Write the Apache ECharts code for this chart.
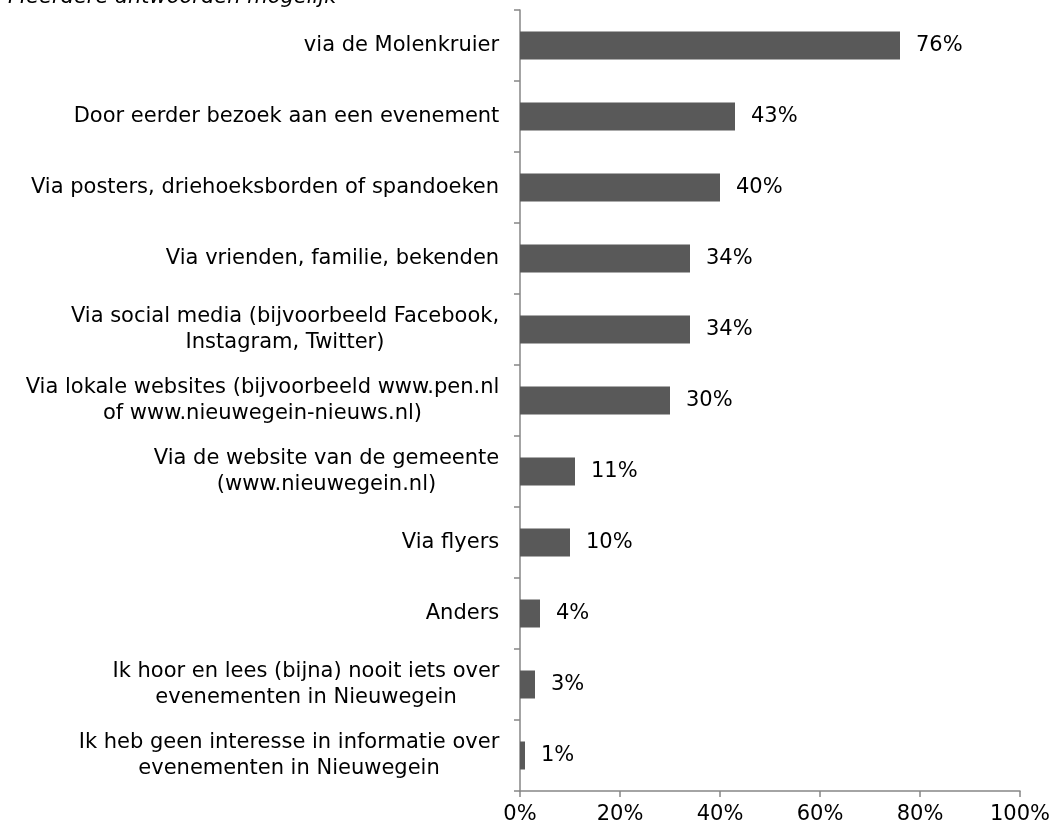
<!DOCTYPE html>
<html>
<head>
<meta charset="utf-8">
<script src="https://cdn.jsdelivr.net/npm/echarts@6/dist/echarts.min.js"></script>
<style>
  html, body { margin: 0; padding: 0; background: #fff; }
  #main { width: 1060px; height: 829px; }
</style>
</head>
<body>
<div id="main"></div>
<script>
// data
var categories = [
    'via de Molenkruier',
    'Door eerder bezoek aan een evenement',
    'Via posters, driehoeksborden of spandoeken',
    'Via vrienden, familie, bekenden',
    'Via social media (bijvoorbeeld Facebook,\nInstagram, Twitter)',
    'Via lokale websites (bijvoorbeeld www.pen.nl\nof www.nieuwegein-nieuws.nl)',
    'Via de website van de gemeente\n(www.nieuwegein.nl)',
    'Via flyers',
    'Anders',
    'Ik hoor en lees (bijna) nooit iets over\nevenementen in Nieuwegein',
    'Ik heb geen interesse in informatie over\nevenementen in Nieuwegein'
];
var values = [76, 43, 40, 34, 34, 30, 11, 10, 4, 3, 1];
var xTicks = [0, 20, 40, 60, 80, 100];

var FONT = 'DejaVu Sans, Verdana, sans-serif';
var FS = 21;

// measure text so multi-line labels can be centred inside their block
var ctx = document.createElement('canvas').getContext('2d');
ctx.font = FS + 'px ' + FONT;
var rich = {};
var labelMap = {};
categories.forEach(function (c, i) {
    var lines = c.split('\n');
    var w = Math.max.apply(null, lines.map(function (l) { return ctx.measureText(l).width; }));
    var key = 'l' + i;
    rich[key] = { width: Math.ceil(w) + 1, align: 'center', fontSize: FS, fontFamily: FONT, color: '#000', lineHeight: 26 };
    labelMap[c] = lines.map(function (l) { return '{' + key + '|' + l + '}'; }).join('\n');
});

let chart = echarts.init(document.getElementById('main'));

chart.setOption({
    animation: false,
    graphic: [{
        type: 'text',
        left: 8,
        top: -13,
        style: { text: 'Meerdere antwoorden mogelijk', font: 'italic ' + FS + 'px ' + FONT, fill: '#000' }
    }],
    grid: { left: 520, right: 40, top: 10, bottom: 38 },
    xAxis: {
        type: 'value',
        min: 0, max: 100, interval: 20,
        splitLine: { show: false },
        axisLine: { show: true, lineStyle: { color: '#868686', width: 1.5 } },
        axisTick: { show: true, length: 6, lineStyle: { color: '#868686', width: 1.5 } },
        axisLabel: {
            formatter: function (v) { return xTicks.indexOf(v) >= 0 ? v + '%' : ''; },
            fontSize: FS, fontFamily: FONT, color: '#000', margin: 13
        }
    },
    yAxis: {
        type: 'category',
        data: categories,
        inverse: true,
        axisLine: { show: true, lineStyle: { color: '#868686', width: 1.5 } },
        axisTick: { show: true, length: 6, lineStyle: { color: '#868686', width: 1.5 } },
        axisLabel: {
            margin: 20,
            align: 'right',
            formatter: function (v) { return labelMap[v]; },
            rich: rich
        }
    },
    series: [{
        type: 'bar',
        data: values,
        barWidth: 28,
        itemStyle: { color: '#595959' },
        label: {
            show: true,
            position: 'right',
            distance: 16,
            formatter: '{c}%',
            fontSize: FS,
            fontFamily: FONT,
            color: '#000'
        }
    }]
});
</script>
</body>
</html>
